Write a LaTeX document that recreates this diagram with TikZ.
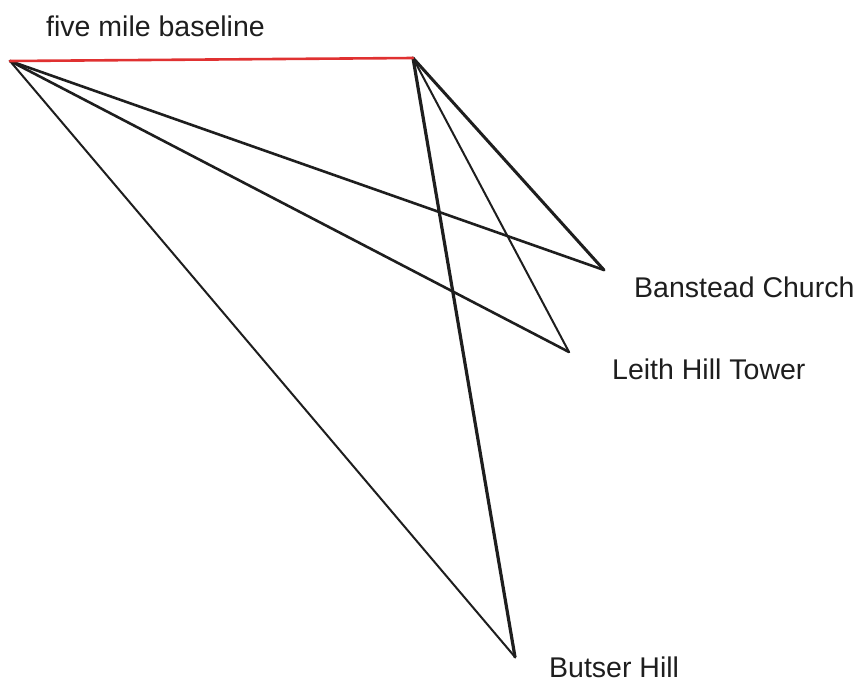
\documentclass[tikz,border=0pt]{standalone}
\usepackage{fontspec}
\setmainfont{Liberation Sans}
\definecolor{exred}{HTML}{E03131}
\definecolor{exink}{HTML}{1E1E1E}
\begin{document}
\begin{tikzpicture}[x=1pt,y=-1pt,
  ray/.style={draw=exink,line width=2.6pt,line cap=round,line join=round},
  thinray/.style={draw=exink,line width=2pt,line cap=round},
  base/.style={draw=exred,line width=2.6pt,line cap=round},
  lbl/.style={anchor=base west,inner sep=0pt,text=exink,font=\fontsize{28.5}{31}\selectfont}]
\useasboundingbox (0,0) rectangle (858,683);
\coordinate (A) at (10,61);
\coordinate (B) at (413,58);
\coordinate (C) at (604,270);
\coordinate (L) at (569,352);
\coordinate (S) at (515,657);
\draw[ray] (A) -- (C);
\draw[ray] (A) -- (L);
\draw[thinray] (A) -- (S);
\draw[ray,line width=3pt] (B) -- (C);
\draw[thinray] (B) -- (L);
\draw[ray,line width=3.2pt] (B) -- (S);
\draw[base] (A) -- (B);
\node[lbl] (tbase) at (46,36) {five mile baseline};
\node[lbl] (tban) at (634,297) {Banstead Church};
\node[lbl] (tlei) at (612,379) {Leith Hill Tower};
\node[lbl] (tbut) at (549,677) {Butser Hill};
\end{tikzpicture}
\end{document}
